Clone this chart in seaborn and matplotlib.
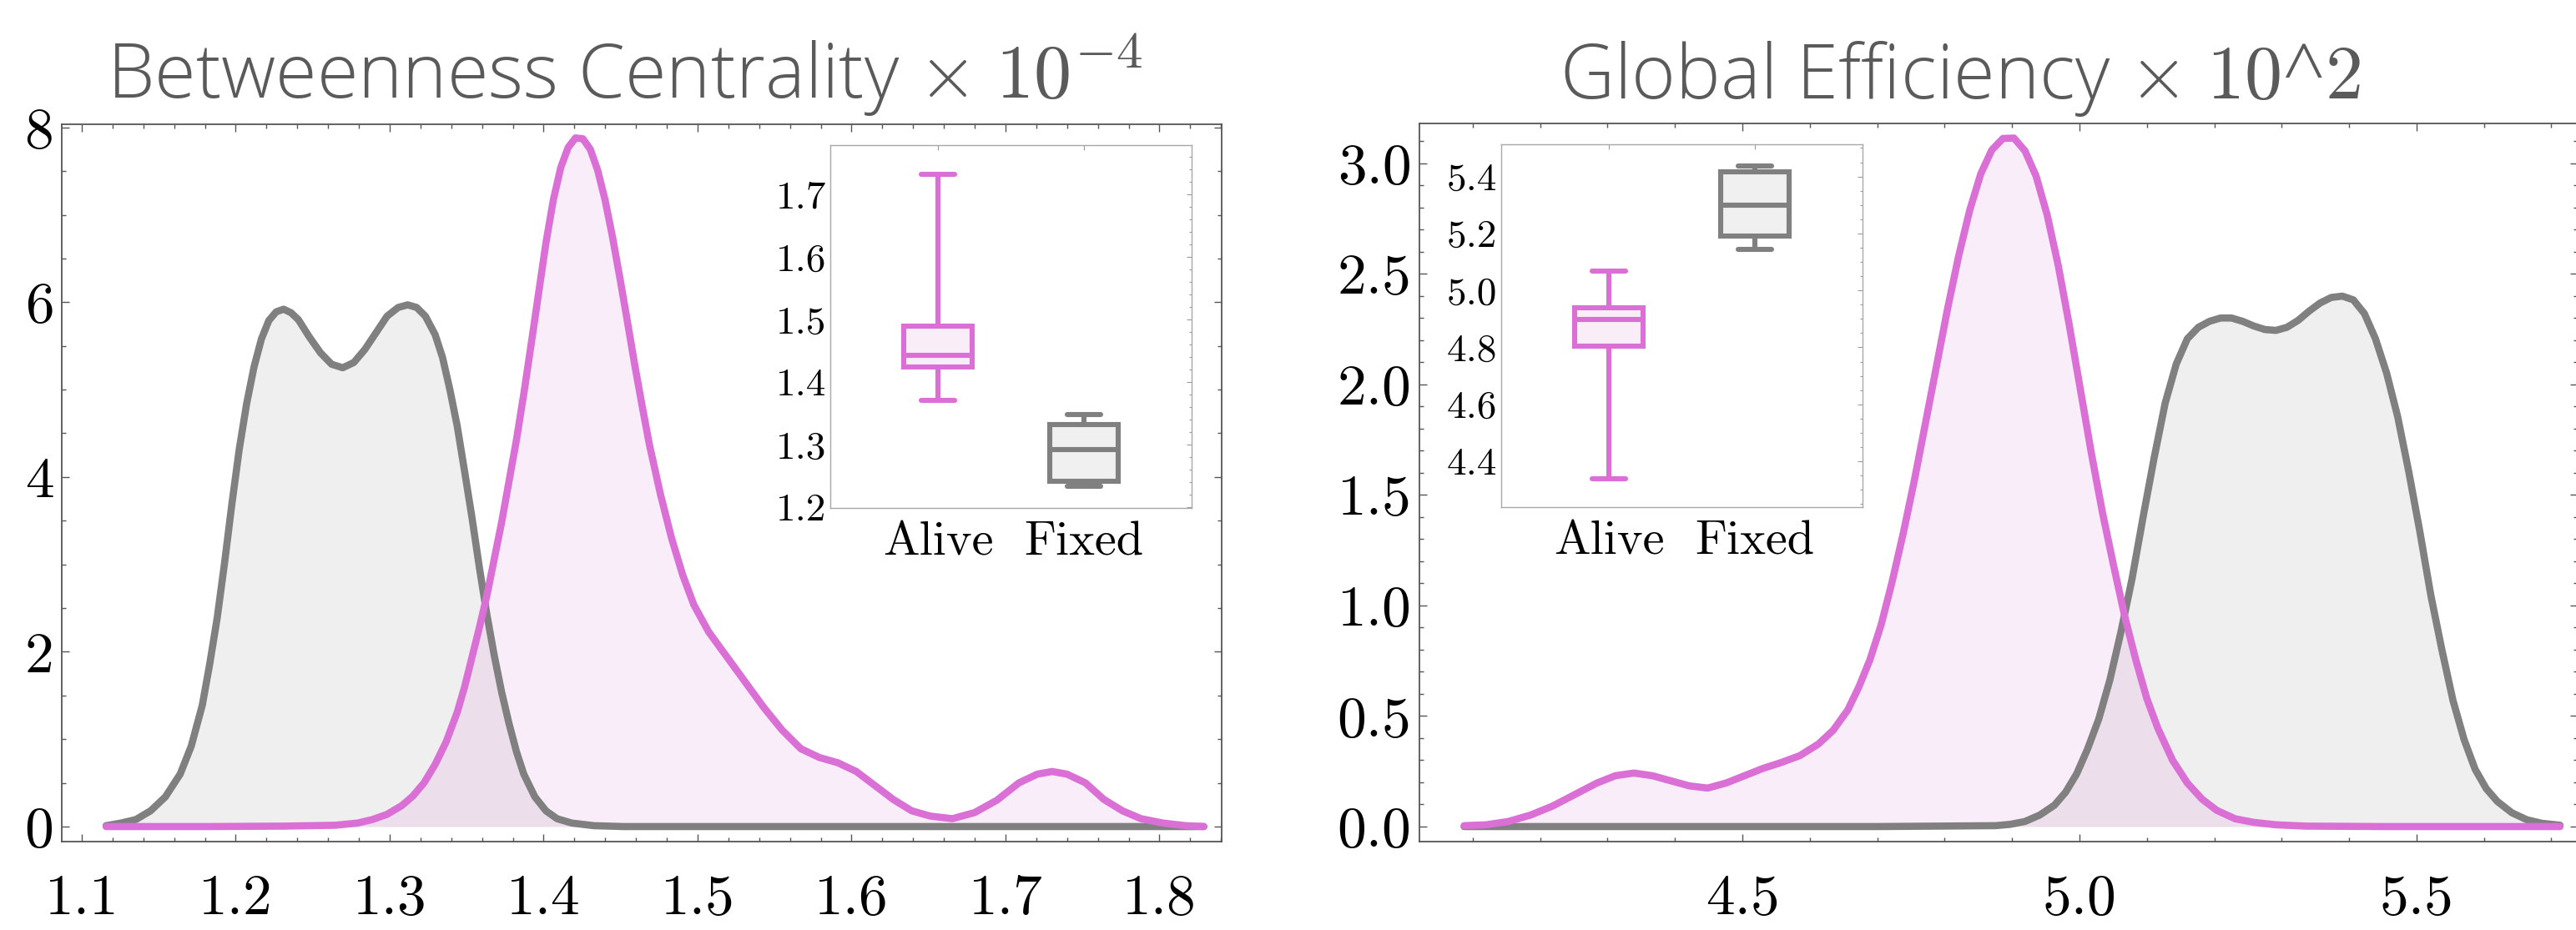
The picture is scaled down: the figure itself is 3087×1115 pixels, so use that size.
import numpy as np
import pandas as pd
import matplotlib
matplotlib.use("Agg")
import matplotlib.pyplot as plt
import seaborn as sns
from matplotlib.ticker import MultipleLocator, FixedLocator, FormatStrFormatter

sns.set_theme(style="white")
plt.rcParams["mathtext.fontset"] = "cm"
plt.rcParams["axes.formatter.use_mathtext"] = True
plt.rcParams["font.family"] = ["Open Sans", "DejaVu Sans"]

# ---------------- data ----------------
# Betweenness centrality (x 1e-4) density curves
bc_fixed_x = [1.1158, 1.1254, 1.1351, 1.1447, 1.1543, 1.1639, 1.1711, 1.1783, 1.1831, 1.1879,
              1.1927, 1.1975, 1.2023, 1.2071, 1.2119, 1.2167, 1.2215, 1.2263, 1.2311, 1.2359,
              1.2407, 1.2479, 1.2551, 1.2623, 1.2695, 1.2767, 1.2839, 1.2911, 1.2983, 1.3055,
              1.3117, 1.3175, 1.3232, 1.3295, 1.3343, 1.3391, 1.3439, 1.3487, 1.3535, 1.3583,
              1.3631, 1.3679, 1.3727, 1.3775, 1.3823, 1.3871, 1.3943, 1.4015, 1.4087, 1.4183,
              1.4327, 1.4519, 1.55, 1.65, 1.75, 1.8288]
bc_fixed_y = [0.01, 0.04, 0.08, 0.18, 0.34, 0.60, 0.92, 1.39, 1.86, 2.38,
              3.01, 3.69, 4.32, 4.84, 5.26, 5.58, 5.79, 5.89, 5.92, 5.88,
              5.80, 5.60, 5.42, 5.29, 5.25, 5.31, 5.46, 5.65, 5.84, 5.94,
              5.97, 5.94, 5.84, 5.63, 5.37, 5.00, 4.58, 4.06, 3.53, 2.96,
              2.43, 1.96, 1.54, 1.18, 0.86, 0.60, 0.34, 0.18, 0.09, 0.04,
              0.01, 0.0, 0.0, 0.0, 0.0, 0.0]
bc_alive_x = [1.1158, 1.1831, 1.2311, 1.2647, 1.2791, 1.2887, 1.2983, 1.3079, 1.3151, 1.3223,
              1.3295, 1.3367, 1.3439, 1.3487, 1.3535, 1.3583, 1.3631, 1.3679, 1.3727, 1.3775,
              1.3823, 1.3871, 1.3919, 1.3967, 1.4015, 1.4063, 1.4111, 1.4159, 1.4207, 1.4255,
              1.4303, 1.4351, 1.4399, 1.4447, 1.4495, 1.4543, 1.4591, 1.4639, 1.4687, 1.4759,
              1.4831, 1.4903, 1.4975, 1.5071, 1.5191, 1.5311, 1.5431, 1.5551, 1.5671, 1.5791,
              1.5911, 1.6031, 1.6151, 1.6271, 1.6391, 1.6511, 1.6655, 1.6799, 1.6943, 1.7087,
              1.7207, 1.7303, 1.7399, 1.7519, 1.7639, 1.7760, 1.7880, 1.8024, 1.8168, 1.8288]
bc_alive_y = [0.0, 0.0, 0.005, 0.015, 0.04, 0.08, 0.14, 0.24, 0.35, 0.50,
              0.71, 0.97, 1.31, 1.60, 1.94, 2.28, 2.64, 3.06, 3.48, 3.95,
              4.42, 4.95, 5.52, 6.10, 6.68, 7.17, 7.54, 7.77, 7.88, 7.87,
              7.75, 7.51, 7.17, 6.75, 6.28, 5.79, 5.29, 4.82, 4.37, 3.80,
              3.30, 2.88, 2.54, 2.23, 1.94, 1.65, 1.36, 1.10, 0.89, 0.79,
              0.73, 0.63, 0.47, 0.31, 0.18, 0.12, 0.09, 0.16, 0.30, 0.50,
              0.60, 0.63, 0.60, 0.50, 0.31, 0.18, 0.09, 0.04, 0.01, 0.0]

# Global efficiency (x 1e2) density curves
ge_alive_x = [4.0873, 4.1202, 4.1530, 4.1859, 4.2187, 4.2515, 4.2844, 4.3117, 4.3391, 4.3665,
              4.3938, 4.4212, 4.4486, 4.4759, 4.5033, 4.5306, 4.5580, 4.5854, 4.6127, 4.6346,
              4.6565, 4.6729, 4.6894, 4.7058, 4.7222, 4.7386, 4.7550, 4.7715, 4.7879, 4.8043,
              4.8207, 4.8371, 4.8536, 4.8700, 4.8864, 4.9028, 4.9192, 4.9357, 4.9521, 4.9685,
              4.9849, 5.0013, 5.0177, 5.0342, 5.0506, 5.0670, 5.0834, 5.0998, 5.1162, 5.1381,
              5.1600, 5.1819, 5.2038, 5.2311, 5.2585, 5.2913, 5.3352, 5.45, 5.60, 5.7128]
ge_alive_y = [0.004, 0.008, 0.023, 0.052, 0.093, 0.145, 0.197, 0.230, 0.242, 0.230,
              0.207, 0.184, 0.174, 0.197, 0.230, 0.263, 0.290, 0.321, 0.373, 0.435,
              0.528, 0.632, 0.756, 0.912, 1.108, 1.326, 1.564, 1.823, 2.082, 2.341,
              2.579, 2.786, 2.952, 3.060, 3.112, 3.114, 3.056, 2.942, 2.766, 2.538,
              2.268, 1.978, 1.688, 1.419, 1.181, 0.953, 0.756, 0.580, 0.445, 0.300,
              0.197, 0.124, 0.073, 0.035, 0.019, 0.008, 0.002, 0.0, 0.0, 0.0]
ge_fixed_x = [4.0873, 4.30, 4.50, 4.70, 4.8754, 4.8973, 4.9192, 4.9411, 4.9630, 4.9794,
              4.9958, 5.0122, 5.0287, 5.0451, 5.0615, 5.0779, 5.0943, 5.1108, 5.1272, 5.1436,
              5.1600, 5.1764, 5.1929, 5.2093, 5.2257, 5.2421, 5.2585, 5.2750, 5.2914, 5.3078,
              5.3242, 5.3406, 5.3570, 5.3735, 5.3899, 5.4063, 5.4227, 5.4391, 5.4556, 5.4720,
              5.4884, 5.5048, 5.5212, 5.5377, 5.5541, 5.5705, 5.5869, 5.6033, 5.6197, 5.6416,
              5.6635, 5.6854, 5.7128]
ge_fixed_y = [0.0, 0.0, 0.0, 0.0, 0.004, 0.010, 0.023, 0.052, 0.097, 0.155,
              0.238, 0.352, 0.487, 0.663, 0.880, 1.119, 1.398, 1.668, 1.916, 2.092,
              2.206, 2.258, 2.285, 2.300, 2.300, 2.285, 2.264, 2.248, 2.244, 2.258,
              2.289, 2.331, 2.368, 2.393, 2.399, 2.382, 2.320, 2.206, 2.051, 1.854,
              1.606, 1.336, 1.046, 0.798, 0.570, 0.394, 0.259, 0.172, 0.114, 0.062,
              0.031, 0.015, 0.006]

# Box-plot five-number summaries: [min, q1, median, q3, max]
groups = ["Alive", "Fixed"]
bc_box_alive = [1.3708, 1.4244, 1.4426, 1.4895, 1.7325]
bc_box_fixed = [1.2335, 1.2407, 1.2919, 1.3325, 1.3483]
ge_box_alive = [4.339, 4.804, 4.897, 4.938, 5.067]
ge_box_fixed = [5.143, 5.191, 5.298, 5.416, 5.438]

titles = [r"Betweenness Centrality $\times$ $\mathbf{10^{-4}}$",
          r"Global Efficiency $\times$ $\mathbf{10}$^$\mathbf{2}$"]

# ---------------- styles ----------------
PINK = "#da70d6"
GRAY = "#808080"
PINK_FILL = "#f9edf8"
GRAY_FILL = "#f0f0f0"
SPINE = "#555555"
TICKFONT = "cmr10"

W, H = 3087, 1115
fig = plt.figure(figsize=(W / 100, H / 100), dpi=100)


def frac_rect(x0, y0, x1, y1):
    return [x0 / W, 1 - y1 / H, (x1 - x0) / W, (y1 - y0) / H]


def style_main(ax, xmaj, xmin, ymaj, ymin, xfmt, yfmt):
    for s in ax.spines.values():
        s.set_color(SPINE)
        s.set_linewidth(1.3)
    ax.xaxis.set_major_locator(xmaj)
    ax.xaxis.set_minor_locator(xmin)
    ax.yaxis.set_major_locator(ymaj)
    ax.yaxis.set_minor_locator(ymin)
    ax.xaxis.set_major_formatter(FormatStrFormatter(xfmt))
    ax.yaxis.set_major_formatter(FormatStrFormatter(yfmt))
    ax.tick_params(which="both", direction="in", top=True, right=True,
                   bottom=True, left=True, color=SPINE, width=1.0)
    ax.tick_params(which="major", length=6.5)
    ax.tick_params(which="minor", length=3.6)
    ax.tick_params(axis="x", which="major", pad=28, labelsize=50,
                   labelfontfamily=TICKFONT, labelcolor="black")
    ax.tick_params(axis="y", which="major", pad=7, labelsize=50,
                   labelfontfamily=TICKFONT, labelcolor="black")
    ax.set_xlabel("")
    ax.set_ylabel("")
    ax.grid(False)


def draw_density(ax, xs, ys, color, alpha):
    ax.fill_between(xs, 0, ys, color=color, alpha=alpha, linewidth=0, zorder=1)
    sns.lineplot(x=xs, y=ys, ax=ax, color=color, linewidth=6.2, estimator=None,
                 sort=False, solid_capstyle="round", solid_joinstyle="round", zorder=3)


def draw_inset(rect, alive, fixed, ylim, ymaj, ymin):
    iax = fig.add_axes(rect)
    df_a = pd.DataFrame({"group": ["Alive"] * len(alive), "value": alive})
    df_f = pd.DataFrame({"group": ["Fixed"] * len(fixed), "value": fixed})
    for df, fc, lc in ((df_a, PINK_FILL, PINK), (df_f, GRAY_FILL, GRAY)):
        sns.boxplot(data=df, x="group", y="value", order=groups, color=fc,
                    linecolor=lc, linewidth=4.4, width=0.465, whis=(0, 100),
                    saturation=1, fliersize=0, ax=iax)
    iax.set_xlim(-0.738, 1.738)
    iax.set_ylim(*ylim)
    iax.set_facecolor("white")
    for s in iax.spines.values():
        s.set_color("#a8a8a8")
        s.set_linewidth(1.0)
    iax.yaxis.set_major_locator(ymaj)
    iax.yaxis.set_minor_locator(ymin)
    iax.yaxis.set_major_formatter(FormatStrFormatter("%.1f"))
    iax.xaxis.set_major_locator(FixedLocator([0, 1]))
    iax.set_xticklabels(groups)
    iax.tick_params(which="both", direction="in", top=True, right=True,
                    color="#9a9a9a", width=0.8)
    iax.tick_params(which="major", length=4)
    iax.tick_params(which="minor", length=2.2)
    iax.tick_params(axis="y", which="major", pad=3.5, labelsize=34,
                    labelfontfamily=TICKFONT, labelcolor="black")
    iax.tick_params(axis="x", which="major", pad=12, labelsize=42,
                    labelfontfamily=TICKFONT, labelcolor="black")
    iax.set_xlabel("")
    iax.set_ylabel("")
    return iax


# ---------------- left panel ----------------
ax1 = fig.add_axes(frac_rect(74, 149, 1464, 1009))
draw_density(ax1, bc_fixed_x, bc_fixed_y, GRAY, 0.12)
draw_density(ax1, bc_alive_x, bc_alive_y, PINK, 0.12)
ax1.set_xlim(1.087, 1.8404)
ax1.set_ylim(-0.172, 8.036)
style_main(ax1, MultipleLocator(0.1), MultipleLocator(0.02),
           MultipleLocator(2), MultipleLocator(0.5), "%.1f", "%d")

# ---------------- right panel ----------------
ax2 = fig.add_axes(frac_rect(1701, 148, 3089, 1009))
draw_density(ax2, ge_fixed_x, ge_fixed_y, GRAY, 0.12)
draw_density(ax2, ge_alive_x, ge_alive_y, PINK, 0.12)
ax2.set_xlim(4.021, 5.739)
ax2.set_ylim(-0.068, 3.18)
style_main(ax2, MultipleLocator(0.5), MultipleLocator(0.1),
           MultipleLocator(0.5), MultipleLocator(0.1), "%.1f", "%.1f")

# ---------------- insets ----------------
draw_inset(frac_rect(995, 174, 1428, 609), bc_box_alive, bc_box_fixed,
           (1.1986, 1.779), MultipleLocator(0.1), MultipleLocator(0.02))
draw_inset(frac_rect(1799, 173, 2232, 608), ge_box_alive, ge_box_fixed,
           (4.239, 5.513), MultipleLocator(0.2), MultipleLocator(0.05))

# ---------------- titles ----------------
TS = 65
fig.text(748 / W, 1 - 118 / H, titles[0], ha="center", va="baseline",
         fontsize=TS, color="#5a5a5a", fontweight="light")
fig.text(2349 / W, 1 - 118 / H, titles[1], ha="center", va="baseline",
         fontsize=TS, color="#5a5a5a", fontweight="light")

fig.savefig("out.png", dpi=100, facecolor="white")
